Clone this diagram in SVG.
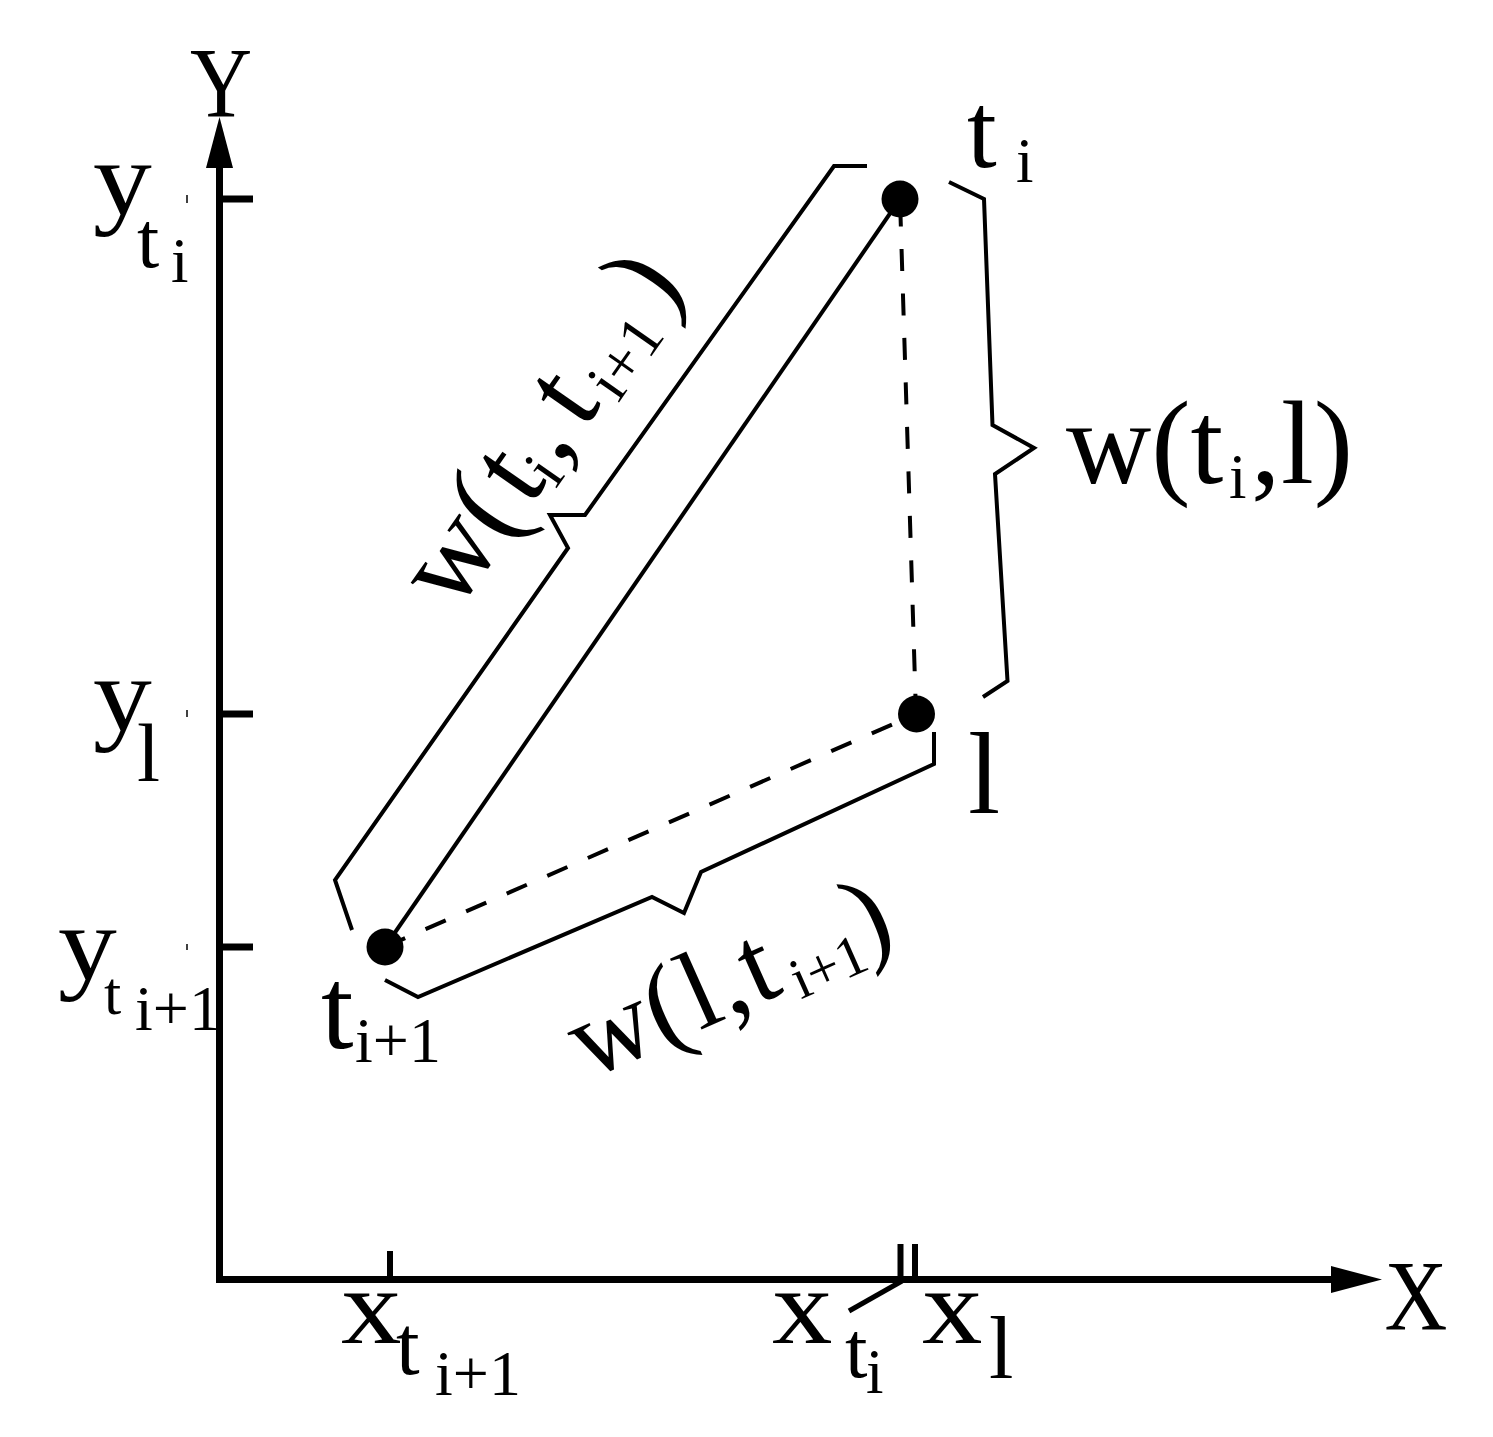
<svg xmlns="http://www.w3.org/2000/svg" width="1493" height="1437" viewBox="0 0 1493 1437">
<style>
.ax{stroke:#000;stroke-width:7;fill:none}
.tk{stroke:#000;stroke-width:7;fill:none}
.xt{stroke:#000;stroke-width:6;fill:none}
.ln{stroke:#000;stroke-width:4;fill:none;stroke-linejoin:miter;stroke-miterlimit:10}
.dash{stroke:#000;stroke-width:4;fill:none}
.ah{fill:#000}
.pt{fill:#000}
.art{stroke:#000;stroke-width:1.5}
text{font-family:"Liberation Serif","Times New Roman",serif;fill:#000}
</style>
<rect width="1493" height="1437" fill="#fff"/>
<g id="axes">
  <line class="ax" x1="219.5" y1="1283" x2="219.5" y2="165"/>
  <polygon class="ah" points="219.5,117 206,168 233,168"/>
  <line class="ax" x1="216" y1="1279.5" x2="1335" y2="1279.5"/>
  <polygon class="ah" points="1382,1279.5 1331,1266 1331,1293"/>
  <line class="tk" x1="220" y1="199" x2="253" y2="199"/>
  <line class="tk" x1="220" y1="714" x2="253" y2="714"/>
  <line class="tk" x1="220" y1="947" x2="253" y2="947"/>
  <line class="xt" x1="390" y1="1251" x2="390" y2="1283"/>
  <line class="xt" x1="900.5" y1="1244" x2="900.5" y2="1280"/>
  <line class="xt" x1="915" y1="1244" x2="915" y2="1280"/>
  <line class="ln" x1="849" y1="1311" x2="902" y2="1281" style="stroke-width:5"/>
  <line class="art" x1="187" y1="195" x2="187" y2="203"/>
  <line class="art" x1="187" y1="710" x2="187" y2="717"/>
  <line class="art" x1="187" y1="944" x2="187" y2="950"/>
</g>
<g id="axis-labels">
  <text transform="translate(221,116) scale(0.86,1)" font-size="100" text-anchor="middle">Y</text>
  <text transform="translate(1416,1329) scale(0.87,1)" font-size="100" text-anchor="middle">X</text>
  <text transform="translate(93,214) scale(1.12,1)" font-size="105">y</text>
  <text><tspan x="137" y="267" font-size="80">t</tspan><tspan x="171" y="282" font-size="63">i</tspan></text>
  <text transform="translate(93,730) scale(1.12,1)" font-size="105">y</text>
  <text x="137" y="781" font-size="83">l</text>
  <text transform="translate(58,979) scale(1.12,1)" font-size="105">y</text>
  <text><tspan x="104" y="1014" font-size="62">t</tspan><tspan x="135" y="1030" font-size="64">i+1</tspan></text>
  <text transform="translate(341,1343) scale(1.12,1)" font-size="108">x</text>
  <text><tspan x="396" y="1374" font-size="85">t</tspan><tspan x="435" y="1395" font-size="64">i+1</tspan></text>
  <text transform="translate(772,1343) scale(1.12,1)" font-size="108">x</text>
  <text><tspan x="845" y="1377" font-size="81">t</tspan><tspan x="866" y="1393" font-size="63">i</tspan></text>
  <text transform="translate(922,1343) scale(1.12,1)" font-size="108">x</text>
  <text x="989" y="1378" font-size="88">l</text>
</g>
<g id="connectors">
  <line class="ln" x1="385" y1="947" x2="900" y2="199"/>
  <line class="dash" x1="900" y1="199" x2="916" y2="714" stroke-dasharray="22 22.5" stroke-dashoffset="39"/>
  <line class="dash" x1="385" y1="947" x2="916" y2="714" stroke-dasharray="22 22.3"/>
</g>
<g id="brace-ti-ti1">
  <polyline class="ln" points="352,930 335,880 568,548 550,515 585,515 834,166 867,166"/>
  <text transform="translate(455,614) rotate(-55)" font-size="118"><tspan x="0" y="0">w(</tspan><tspan x="130" y="0">t</tspan><tspan x="160" y="11" font-size="63">i</tspan><tspan x="181" y="0">,</tspan><tspan x="224" y="0">t</tspan><tspan x="266" y="13" font-size="62">i+1</tspan><tspan x="362" y="0">)</tspan></text>
</g>
<g id="brace-ti-l">
  <polyline class="ln" points="949,182 984,199 992.5,425 1034,448 995,474 1007.5,681 983,697"/>
  <text font-size="118"><tspan x="1066" y="483">w(t</tspan><tspan x="1229" y="498" font-size="63">i</tspan><tspan x="1251" y="483">,</tspan><tspan x="1281" y="483">l)</tspan></text>
</g>
<g id="brace-l-ti1">
  <polyline class="ln" points="385,980 418,997 652,897 684,913 701,872 934,764 934,732"/>
  <text transform="translate(588,1080) rotate(-24)" font-size="112"><tspan x="0" y="0">w(</tspan><tspan x="122" y="0">l</tspan><tspan x="155" y="0">,</tspan><tspan x="185" y="0">t</tspan><tspan x="227" y="13" font-size="58">i+1</tspan><tspan x="303" y="0">)</tspan></text>
</g>
<g id="node-ti">
  <circle class="pt" cx="900" cy="199" r="18.5"/>
  <text><tspan x="967" y="167" font-size="107">t</tspan><tspan x="1016" y="182" font-size="63">i</tspan></text>
</g>
<g id="node-l">
  <circle class="pt" cx="916.5" cy="714" r="18.5"/>
  <text x="968" y="813" font-size="116">l</text>
</g>
<g id="node-ti1">
  <circle class="pt" cx="385" cy="947" r="18.5"/>
  <text><tspan x="321" y="1048" font-size="117">t</tspan><tspan x="355" y="1062" font-size="64">i+1</tspan></text>
</g>
</svg>
